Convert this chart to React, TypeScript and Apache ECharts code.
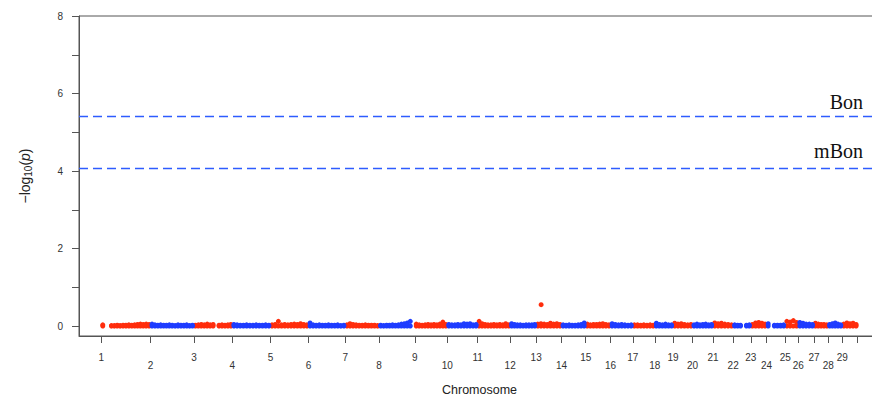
import React, { useEffect, useRef } from "react";
import * as echarts from "echarts";

// Chromosome lengths (Mb), chromosomes 1..29
const CHROM_LEN = [159, 140, 124, 123, 123, 119, 109, 115, 105, 98, 105, 84, 82, 78, 80, 72, 71, 59, 63, 66, 65, 57, 51, 60, 42, 51, 46, 45, 50];

// Upper envelope of -log10(p) (x100) along each chromosome, equally spaced bins; null = no SNP
const CHR_VALUES: (number | null)[][] = [
  [3, null, null, 1, 1, 2, 1, 2, 2, 3, 2, 3, 4, 5, 4, 5, 4],
  [5, 3, 2, 3, 2, 2, 3, 2, 1, 3, 2, 2, 3, 1, 2],
  [2, 3, 4, 3, 5, 3, 4, null, 2, 3, 2, 3, 4],
  [4, 3, 2, 2, 3, 2, 2, 3, 2, 2, 3, 2],
  [3, 4, 12, 3, 4, 3, 4, 5, 4, 6, 4, 3],
  [8, 3, 2, 3, 2, 2, 3, 2, 2, 3, 1, 2],
  [3, 6, 4, 3, 2, 2, 3, 2, 2, 2, 1],
  [2, 1, 2, 2, 3, 2, 3, 5, 6, 8, 12, null],
  [5, 3, 2, 3, 4, 3, 4, 3, 5, 10, 4],
  [4, 3, 3, 4, 3, 6, 5, 6, 3, 4],
  [12, 6, 4, 3, 3, 4, 3, 4, 3, 6, 3],
  [6, 4, 3, 3, 2, 3, 3, 3, 4],
  [5, 6, 5, 4, 7, 5, 6, 4],
  [3, 2, 3, 2, 2, 3, 4, 8],
  [5, 3, 4, 4, 5, 6, 4, 3],
  [6, 4, 3, 4, 3, 2, 3],
  [3, 3, 2, 3, 2, 3, 2],
  [7, 4, 3, 5, 3, 3],
  [7, 5, 6, 4, 3, 4],
  [3, 5, 3, 4, 5, 3, 4],
  [8, 6, 7, 5, 4, 3],
  [3, 2, 2, null, 2, 3],
  [4, 8, 9, 7, 5],
  [6, null, 2, 2, 2, 3],
  [12, 10, 14, 9],
  [9, 7, 5, 5, 4],
  [7, 5, 4, 4, 3],
  [4, 6, 8, 5, 3],
  [5, 8, 6, 7, 4],
];

// Lower envelope of the band (-log10 p) everywhere
const BAND_FLOOR = 0;

// Individual top SNPs: chromosome, position (Mb), -log10(p)
const TOP_CHR = [13];
const TOP_POS = [16];
const TOP_LOGP = [0.55];

// Significance thresholds
const THRESHOLD_NAMES = ["Bon", "mBon"];
const THRESHOLD_VALUES = [5.41, 4.07];

const Y_TICKS = [0, 1, 2, 3, 4, 5, 6, 7, 8];
const Y_LABELS = [0, 2, 4, 6, 8];

const RED = "#FF2D0C";
const BLUE = "#1E3CFF";
const LINE_BLUE = "#2E5CFF";
const AXIS = "#555555";
const FONT = "'Liberation Sans', Arial, sans-serif";

export default function App() {
  const ref = useRef<HTMLDivElement>(null);
  useEffect(() => {
    if (!ref.current) return;
    const chart = echarts.init(ref.current, null, { renderer: "svg" });

    const starts: number[] = [];
    let acc = 0;
    CHROM_LEN.forEach((l) => {
      starts.push(acc);
      acc += l;
    });
    const total = acc;
    const pad = total * 0.0295;

    const red: number[][] = [];
    const blue: number[][] = [];
    CHR_VALUES.forEach((vals, ci) => {
      const n = vals.length;
      const target = ci % 2 === 0 ? red : blue;
      vals.forEach((v, i) => {
        if (v === null) return;
        const x = starts[ci] + ((i + 0.5) * CHROM_LEN[ci]) / n;
        target.push([x, BAND_FLOOR]);
        target.push([x, v / 100]);
      });
    });
    TOP_CHR.forEach((c, i) => {
      const target = (c - 1) % 2 === 0 ? red : blue;
      target.push([starts[c - 1] + TOP_POS[i], TOP_LOGP[i]]);
    });

    const tickVals = [...starts, total];
    const oddStarts = starts.filter((_, i) => i % 2 === 0);
    const evenStarts = starts.filter((_, i) => i % 2 === 1);
    const chrName = (v: number) => String(starts.indexOf(v) + 1);

    const xCommon = {
      type: "value" as const,
      min: -pad,
      max: total + pad,
      splitLine: { show: false },
    };

    chart.setOption({
      animation: false,
      backgroundColor: "#ffffff",
      grid: {
        left: 79,
        right: -8,
        top: 16,
        bottom: 62,
        show: true,
        borderColor: AXIS,
        borderWidth: 1,
        containLabel: false,
        outerBoundsMode: "none",
      },
      xAxis: [
        {
          ...xCommon,
          position: "bottom",
          name: "Chromosome",
          nameLocation: "middle",
          nameGap: 47,
          nameTextStyle: { fontSize: 12.5, color: "#222", fontFamily: FONT },
          axisLine: { show: true, onZero: false, lineStyle: { color: AXIS } },
          axisTick: { show: true, length: 7, customValues: tickVals, lineStyle: { color: AXIS } },
          axisLabel: {
            customValues: oddStarts,
            formatter: chrName,
            margin: 16,
            fontSize: 10,
            color: "#333",
            fontFamily: FONT,
          },
        },
        {
          ...xCommon,
          position: "bottom",
          axisLine: { show: false, onZero: false },
          axisTick: { show: false },
          axisLabel: {
            customValues: evenStarts,
            formatter: chrName,
            margin: 24,
            fontSize: 10,
            color: "#333",
            fontFamily: FONT,
          },
        },
      ],
      yAxis: {
        type: "value",
        min: -0.258,
        max: 8,
        splitLine: { show: false },
        name: "{a|−log}{s|10}{a|(}{i|p}{a|)}",
        nameLocation: "middle",
        nameRotate: 90,
        nameGap: 46,
        nameTextStyle: {
          color: "#222",
          fontFamily: FONT,
          rich: {
            a: { fontSize: 14, color: "#222", fontFamily: FONT },
            s: { fontSize: 10, color: "#222", fontFamily: FONT, verticalAlign: "bottom", padding: [6, 0, 0, 0] },
            i: { fontSize: 14, color: "#222", fontFamily: FONT, fontStyle: "italic" },
          },
        },
        axisLine: { show: true, onZero: false, lineStyle: { color: AXIS } },
        axisTick: { show: true, length: 7, customValues: Y_TICKS, lineStyle: { color: AXIS } },
        axisLabel: { customValues: Y_LABELS, margin: 16, fontSize: 10, color: "#333", fontFamily: FONT },
      },
      series: [
        {
          type: "scatter",
          data: red,
          symbolSize: 5,
          itemStyle: { color: RED, opacity: 1 },
          silent: true,
          markLine: {
            silent: true,
            symbol: "none",
            label: { show: false },
            lineStyle: { color: LINE_BLUE, type: [9, 5], width: 1.4 },
            data: THRESHOLD_VALUES.map((v) => ({ yAxis: v })),
          },
        },
        {
          type: "scatter",
          data: blue,
          symbolSize: 5,
          itemStyle: { color: BLUE, opacity: 1 },
          silent: true,
        },
      ],
      graphic: THRESHOLD_NAMES.map((name, i) => ({
        type: "text",
        right: 9,
        top: i === 0 ? 92 : 141,
        style: {
          text: name,
          fontSize: 20,
          fontFamily: "'Liberation Serif', 'Times New Roman', serif",
          fill: "#111",
        },
      })),
    });
    return () => chart.dispose();
  }, []);
  return (
    <div
      ref={ref}
      style={{ position: "fixed", left: 0, top: 0, width: 872, height: 398 }}
    />
  );
}
